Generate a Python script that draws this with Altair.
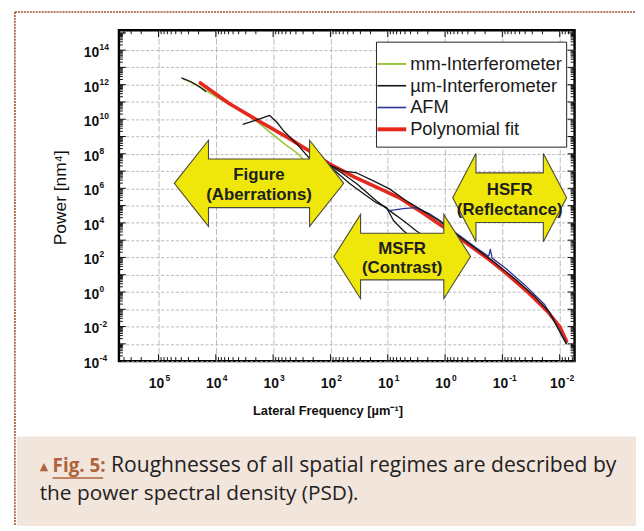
import altair as alt
import pandas as pd

# ---------------- data (log10 values) ----------------
series_names = ["mm-Interferometer", "µm-Interferometer", "AFM", "Polynomial fit"]
series_colors = ["#9dc53f", "#151515", "#283593", "#e4281c"]
legend_widths = [2.0, 1.6, 1.6, 4.0]

fit_logf = [4.27, 3.76, 3.25, 2.75, 2.39, 2.01, 1.58, 1.15, 0.77, 0.40, 0.02, -0.34, -0.72, -1.08, -1.46, -1.78, -2.00, -2.12]
fit_logp = [12.10, 10.90, 9.90, 8.95, 8.20, 7.41, 6.65, 6.00, 5.40, 4.60, 3.74, 2.90, 2.00, 1.05, -0.05, -1.10, -2.00, -2.85]

mm_logf = [4.57, 4.31, 4.05, 3.76, 3.44, 3.24, 3.01, 2.79, 2.58, 2.45]
mm_logp = [12.34, 11.94, 11.42, 10.85, 10.27, 9.76, 9.13, 8.55, 8.04, 7.60]

um_a_logf = [4.60, 4.43, 4.26, 4.17]
um_a_logp = [12.39, 12.17, 11.82, 11.59]
um_b_logf = [3.53, 3.31, 3.06, 2.93, 2.81, 2.58, 2.37, 2.27]
um_b_logp = [9.70, 9.93, 10.22, 9.81, 9.30, 8.55, 7.75, 7.50]
um_c_logf = [2.27, 2.06, 1.77, 1.54, 1.25, 0.97, 0.68, 0.39, 0.11, -0.18, -0.53, -0.88, -1.22, -1.57, -1.83, -1.97, -2.12]
um_c_logp = [7.58, 7.41, 7.00, 6.89, 6.43, 5.97, 5.28, 4.71, 4.14, 3.39, 2.53, 1.67, 0.75, -0.28, -1.20, -2.11, -3.03]
um_d_logf = [2.06, 1.80, 1.54, 1.20, 0.97, 0.73, 0.51, 0.35]
um_d_logp = [7.41, 6.89, 6.26, 5.28, 4.71, 4.14, 3.56, 3.20]
um_e_logf = [2.06, 1.66, 1.42, 1.20, 1.02, 0.90, 0.73, 0.60]
um_e_logp = [7.41, 6.26, 5.69, 5.17, 4.88, 4.14, 3.56, 3.20]

afm_logf = [0.97, 0.73, 0.51, 0.28, 0.09, -0.18, -0.53, -0.76, -0.79, -0.82, -1.05, -1.39, -1.74, -1.97, -2.12]
afm_logp = [4.71, 4.83, 4.88, 4.54, 4.14, 3.45, 2.59, 2.07, 2.47, 1.96, 1.39, 0.41, -0.74, -2.06, -2.97]

# regime arrows (centre in data units)
arrow_names = ["Figure", "MSFR", "HSFR"]
arrow_sub = ["(Aberrations)", "(Contrast)", "(Reflectance)"]
arrow_logf = [3.246, 0.748, -1.127]
arrow_logp = [6.29, 2.05, 5.46]

x_tick_exp = [5, 4, 3, 2, 1, 0, -1, -2]
y_tick_exp = [14, 12, 10, 8, 6, 4, 2, 0, -2, -4]

caption_tag = "Fig. 5:"
caption_l1 = "Roughnesses of all spatial regimes are described by"
caption_l2 = "the power spectral density (PSD)."

# ---------------- build tables ----------------
def table(series, seg, lf, lp):
    return pd.DataFrame({"series": series, "seg": seg, "i": list(range(len(lf))),
                         "f": [10.0 ** a for a in lf], "p": [10.0 ** b for b in lp]})


mm_df = table("mm-Interferometer", "mm", mm_logf, mm_logp)
fit_df = table("Polynomial fit", "fit", fit_logf, fit_logp)
thin_df = pd.concat([
    table("µm-Interferometer", "um_a", um_a_logf, um_a_logp),
    table("µm-Interferometer", "um_b", um_b_logf, um_b_logp),
    table("µm-Interferometer", "um_d", um_d_logf, um_d_logp),
    table("µm-Interferometer", "um_e", um_e_logf, um_e_logp),
    table("AFM", "afm", afm_logf, afm_logp),
    table("µm-Interferometer", "um_c", um_c_logf, um_c_logp),
], ignore_index=True)

arrows = pd.DataFrame({"name": arrow_names, "sub": arrow_sub,
                       "f": [10.0 ** v for v in arrow_logf],
                       "p": [10.0 ** v for v in arrow_logp]})

xlab = pd.DataFrame({"v": [10.0 ** e for e in x_tick_exp], "base": "10", "e": [str(e) for e in x_tick_exp]})
ylab = pd.DataFrame({"v": [10.0 ** e for e in y_tick_exp], "base": "10", "e": [str(e) for e in y_tick_exp]})

XLO, XHI = 10 ** -2.26, 10 ** 5.69
YLO, YHI = 1e-4, 10 ** 15.15
x_major = [10.0 ** k for k in range(-2, 6)]
y_major = [10.0 ** k for k in range(-4, 16)]
x_minor = [m * 10.0 ** k for k in range(-3, 6) for m in range(2, 10) if XLO < m * 10.0 ** k < XHI]
y_minor = [m * 10.0 ** k for k in range(-4, 16) for m in range(2, 10) if YLO < m * 10.0 ** k < YHI]

W, H = 460, 334

xs = alt.Scale(type="log", domain=[XLO, XHI], reverse=True, nice=False)
ys = alt.Scale(type="log", domain=[YLO, YHI], nice=False)
xaxis = alt.Axis(values=x_major, grid=True, labels=False, ticks=False, domain=False, title=None,
                 gridColor="#b5b5b5", gridDash=[6, 2], gridWidth=0.9)
yaxis = alt.Axis(values=y_major[:-1], grid=True, labels=False, ticks=False, domain=False, title=None,
                 gridColor="#a9a9a9", gridDash=[3, 2], gridWidth=0.8)
cscale = alt.Scale(domain=series_names, range=series_colors)


def X(field):
    return alt.X(f"{field}:Q", scale=xs, axis=xaxis)


def Y(field):
    return alt.Y(f"{field}:Q", scale=ys, axis=yaxis)


one = pd.DataFrame({"k": [0]})


def fixed_text(txt, x, y, **kw):
    return alt.Chart(one).mark_text(text=txt, **kw).encode(x=alt.value(x), y=alt.value(y))


layers = []

# caption background and page border
layers.append(alt.Chart(one).mark_rect(color="#f2e5dc").encode(
    x=alt.value(-103), x2=alt.value(W + 62), y=alt.value(410), y2=alt.value(H + 170)))
layers.append(alt.Chart(one).mark_rule(color="#a0522d", strokeWidth=1.6, strokeDash=[2, 1]).encode(
    x=alt.value(-105), y=alt.value(-18.5), y2=alt.value(H + 170)))
layers.append(alt.Chart(one).mark_rule(color="#a0522d", strokeWidth=1.6, strokeDash=[2, 1]).encode(
    x=alt.value(-105), x2=alt.value(W + 62), y=alt.value(-18.5)))

# curves
layers.append(alt.Chart(mm_df).mark_line(strokeWidth=1.6, strokeJoin="round").encode(
    x=X("f"), y=Y("p"), color=alt.Color("series:N", scale=cscale, legend=None), order="i:Q"))
layers.append(alt.Chart(fit_df).mark_line(strokeWidth=3.6, strokeJoin="round", strokeCap="round").encode(
    x=X("f"), y=Y("p"), color=alt.Color("series:N", scale=cscale, legend=None), order="i:Q"))
layers.append(alt.Chart(thin_df).mark_line(strokeWidth=1.3, strokeJoin="round").encode(
    x=X("f"), y=Y("p"), color=alt.Color("series:N", scale=cscale, legend=None),
    detail="seg:N", order="i:Q"))


# arrows
def arrow_path(L, hb, hh, sh):
    return (f"M{-L},0L{-hb},{-hh}L{-hb},{-sh}L{hb},{-sh}L{hb},{-hh}L{L},0"
            f"L{hb},{hh}L{hb},{sh}L{-hb},{sh}L{-hb},{hh}Z")


paths = [arrow_path(85.5, 51, 43.5, 24.5), arrow_path(69, 42, 42.5, 23.5), arrow_path(57.5, 34, 44.5, 25)]
for k in range(3):
    layers.append(alt.Chart(arrows.iloc[[k]]).mark_point(
        shape=paths[k], size=4, filled=True, fill="#efe60a", stroke="#4a4a3a", strokeWidth=1.1,
        opacity=1, fillOpacity=1, strokeOpacity=1).encode(x=X("f"), y=Y("p")))
layers.append(alt.Chart(arrows).mark_text(font="Liberation Sans", fontWeight="bold", fontSize=17,
                                          color="#1e1e1e", dy=-8).encode(x=X("f"), y=Y("p"), text="name:N"))
layers.append(alt.Chart(arrows).mark_text(font="Liberation Sans", fontWeight="bold", fontSize=17,
                                          color="#1e1e1e", dy=12).encode(x=X("f"), y=Y("p"), text="sub:N"))

# legend box (drawn by hand so line widths match the curves)
LX0, LX1, LY0, LY1 = 260, 452, 12, 118
layers.append(alt.Chart(one).mark_rect(fill="white", stroke="#222", strokeWidth=1).encode(
    x=alt.value(LX0), x2=alt.value(LX1), y=alt.value(LY0), y2=alt.value(LY1)))
for k, name in enumerate(series_names):
    yk = 34 + 22 * k
    layers.append(alt.Chart(one).mark_rule(color=series_colors[k], strokeWidth=legend_widths[k]).encode(
        x=alt.value(LX0 + 1), x2=alt.value(LX0 + 30), y=alt.value(yk)))
    layers.append(fixed_text(name, LX0 + 34, yk, font="Liberation Sans", fontSize=18.5, color="#1a1a1a",
                             align="left", baseline="middle"))

# inward ticks
tick = dict(color="#111", strokeWidth=1)
dfx_maj = pd.DataFrame({"v": x_major})
dfx_min = pd.DataFrame({"v": x_minor})
dfy_maj = pd.DataFrame({"v": y_major})
dfy_min = pd.DataFrame({"v": y_minor})
layers += [
    alt.Chart(dfx_maj).mark_rule(**tick).encode(x=X("v"), y=alt.value(H - 7), y2=alt.value(H)),
    alt.Chart(dfx_maj).mark_rule(**tick).encode(x=X("v"), y=alt.value(0), y2=alt.value(7)),
    alt.Chart(dfx_min).mark_rule(**tick).encode(x=X("v"), y=alt.value(H - 4), y2=alt.value(H)),
    alt.Chart(dfx_min).mark_rule(**tick).encode(x=X("v"), y=alt.value(0), y2=alt.value(4)),
    alt.Chart(dfy_maj).mark_rule(**tick).encode(y=Y("v"), x=alt.value(0), x2=alt.value(7)),
    alt.Chart(dfy_maj).mark_rule(**tick).encode(y=Y("v"), x=alt.value(W - 7), x2=alt.value(W)),
    alt.Chart(dfy_min).mark_rule(**tick).encode(y=Y("v"), x=alt.value(0), x2=alt.value(4)),
    alt.Chart(dfy_min).mark_rule(**tick).encode(y=Y("v"), x=alt.value(W - 4), x2=alt.value(W)),
]

# tick labels with raised exponents
lab = dict(font="Liberation Sans", fontWeight="bold", color="#111")
layers += [
    alt.Chart(xlab).mark_text(fontSize=14, align="center", baseline="middle", dx=-2, **lab).encode(
        x=X("v"), y=alt.value(H + 23), text="base:N"),
    alt.Chart(xlab).mark_text(fontSize=8.5, align="left", baseline="middle", dx=7, **lab).encode(
        x=X("v"), y=alt.value(H + 17), text="e:N"),
    alt.Chart(ylab).mark_text(fontSize=14, align="right", baseline="middle", dy=3, **lab).encode(
        y=Y("v"), x=alt.value(-20), text="base:N"),
    alt.Chart(ylab).mark_text(fontSize=8.5, align="left", baseline="middle", dy=-3, dx=0.5, **lab).encode(
        y=Y("v"), x=alt.value(-20), text="e:N"),
]

# axis titles
layers.append(fixed_text("Power [nm⁴]", -58, 169, font="Liberation Sans", fontSize=17.5, angle=270,
                         align="center", baseline="middle", color="#111"))
layers.append(fixed_text("Lateral Frequency [µm⁻¹]", 211, 384, font="Liberation Sans", fontSize=13,
                         fontWeight="bold", align="center", baseline="middle", color="#111"))

# caption
brown = "#b0623a"
layers.append(fixed_text("▲", -80, 441, font="DejaVu Sans", fontSize=11, color=brown,
                         align="left", baseline="middle"))
layers.append(fixed_text(caption_tag, -67, 440, font="Open Sans", fontSize=19, fontWeight="bold",
                         color=brown, align="left", baseline="middle"))
layers.append(alt.Chart(one).mark_rule(color=brown, strokeWidth=1.3).encode(
    x=alt.value(-67), x2=alt.value(-16), y=alt.value(452)))
layers.append(fixed_text(caption_l1, -8, 440, font="Open Sans", fontSize=21.3, color="#222",
                         align="left", baseline="middle"))
layers.append(fixed_text(caption_l2, -80, 468, font="Open Sans", fontSize=21, color="#222",
                         align="left", baseline="middle"))

chart = alt.layer(*layers).properties(
    width=W, height=H, background="white",
    autosize=alt.AutoSizeParams(type="none"),
    padding={"left": 112, "top": 20, "right": 62, "bottom": 164},
).configure_view(stroke="black", strokeWidth=2.4)

chart.save("out.html", embed_options={"renderer": "svg", "actions": False})
